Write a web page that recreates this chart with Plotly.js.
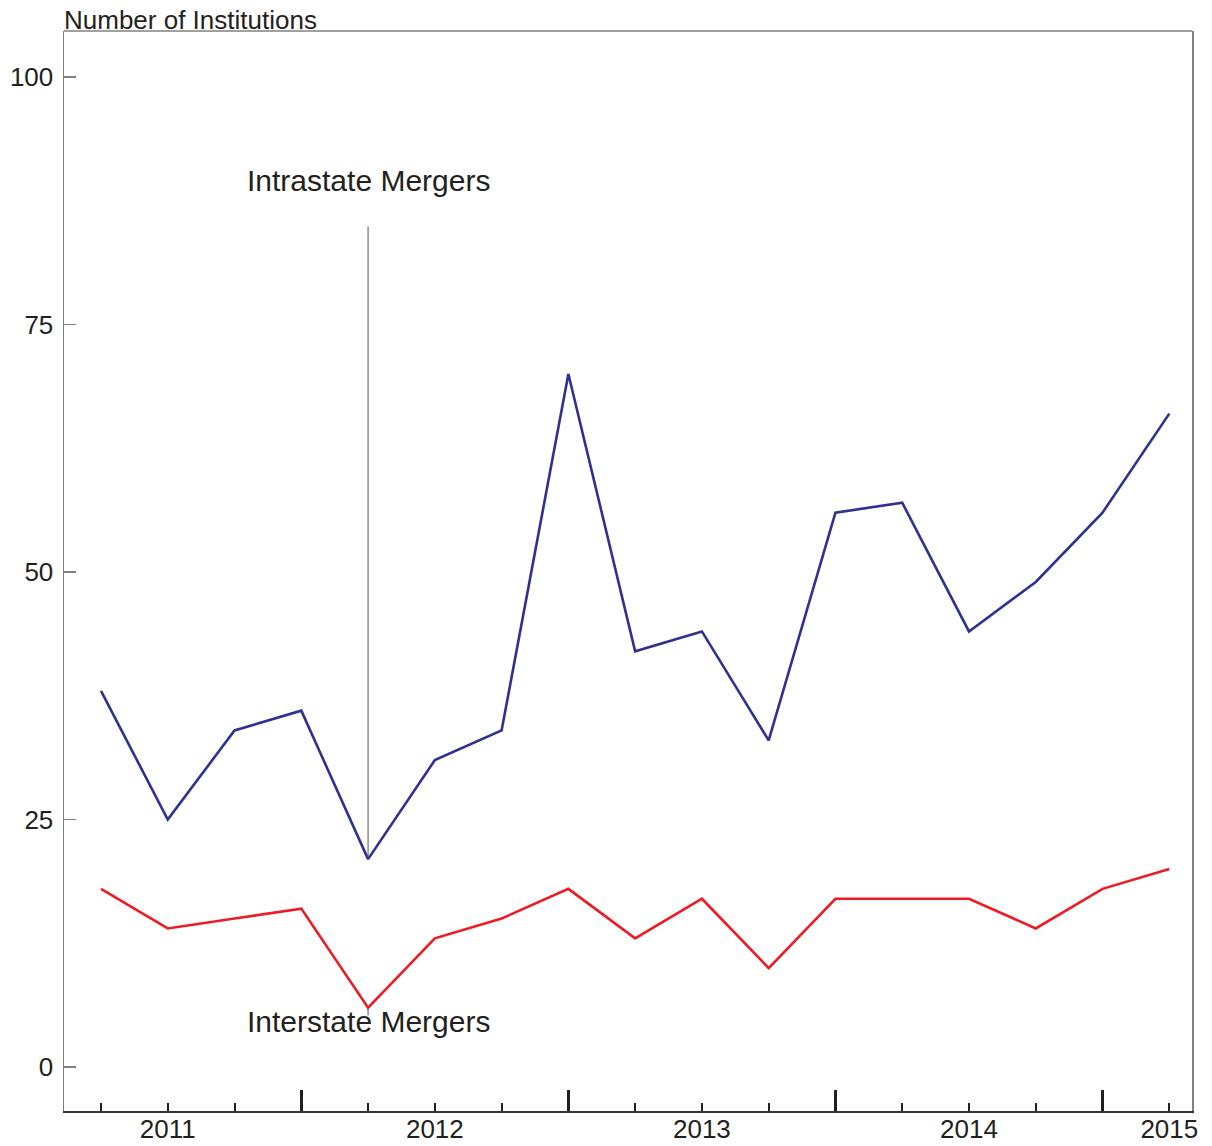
<!DOCTYPE html>
<html>
<head>
<meta charset="utf-8">
<script src="https://cdn.plot.ly/plotly-3.0.1.min.js"></script>
<style>
  html, body { margin: 0; padding: 0; background: white; }
  #chart { width: 1212px; height: 1146px; }
</style>
</head>
<body>
<div id="chart"></div>
<script>
// ===== Data (quarterly, 2010 Q4 .. 2014 Q4) =====
const quarters = [0, 1, 2, 3, 4, 5, 6, 7, 8, 9, 10, 11, 12, 13, 14, 15, 16];
const intrastate = [38, 25, 34, 36, 21, 31, 34, 70, 42, 44, 33, 56, 57, 44, 49, 56, 66];
const interstate = [18, 14, 15, 16, 6, 13, 15, 18, 13, 17, 10, 17, 17, 17, 14, 18, 20];
const yearTicks = [1, 5, 9, 13, 16];
const yearLabels = ['2011', '2012', '2013', '2014', '2015'];
const longTicks = [3, 7, 11, 15];

const FONT = '"Liberation Sans", Arial, sans-serif';

function drawChart() {
    const traces = [
        {
            x: quarters, y: intrastate, type: 'scatter', mode: 'lines',
            line: { color: '#2e3192', width: 2.6 },
            hoverinfo: 'skip'
        },
        {
            x: quarters, y: interstate, type: 'scatter', mode: 'lines',
            line: { color: '#ed1c24', width: 2.6 },
            hoverinfo: 'skip'
        },
        // empty traces that carry the extra x axes (labels, long ticks)
        { x: yearTicks, y: yearTicks.map(() => null), xaxis: 'x2', type: 'scatter', mode: 'lines', hoverinfo: 'skip' },
        { x: longTicks, y: longTicks.map(() => null), xaxis: 'x3', type: 'scatter', mode: 'lines', hoverinfo: 'skip' }
    ];

    const xRange = [-0.554, 16.34];

    const layout = {
        width: 1212,
        height: 1146,
        margin: { l: 64, r: 20, t: 31, b: 35 },
        paper_bgcolor: 'white',
        plot_bgcolor: 'white',
        showlegend: false,
        font: { family: FONT, color: '#231f20', size: 24 },
        // quarter ticks (short)
        xaxis: {
            range: xRange,
            showgrid: false,
            zeroline: false,
            showline: true,
            linecolor: '#333333',
            linewidth: 2,
            ticks: 'inside',
            tickvals: quarters,
            ticktext: quarters.map(() => ''),
            ticklen: 8,
            tickwidth: 2,
            tickcolor: '#231f20'
        },
        // year labels
        xaxis2: {
            overlaying: 'x',
            side: 'bottom',
            range: xRange,
            showgrid: false,
            zeroline: false,
            showline: false,
            ticks: '',
            tickvals: yearTicks,
            ticktext: yearLabels,
            ticklabelstandoff: 0,
            tickfont: { size: 26, family: FONT, color: '#231f20' }
        },
        // long ticks at year-end quarters
        xaxis3: {
            overlaying: 'x',
            side: 'bottom',
            range: xRange,
            showgrid: false,
            zeroline: false,
            showline: false,
            showticklabels: false,
            ticks: 'inside',
            tickvals: longTicks,
            ticklen: 21,
            tickwidth: 2.5,
            tickcolor: '#231f20'
        },
        yaxis: {
            range: [-4.44, 104.65],
            showgrid: false,
            zeroline: false,
            showline: true,
            mirror: true,
            linecolor: '#808080',
            linewidth: 1.5,
            ticks: 'inside',
            ticklen: 12,
            tickwidth: 1.5,
            tickcolor: '#808080',
            tickvals: [0, 25, 50, 75, 100],
            ticklabelstandoff: 4,
            tickfont: { size: 26, family: FONT, color: '#231f20' }
        },
        shapes: [
            {
                type: 'line', xref: 'paper', yref: 'paper',
                x0: 0, x1: 1, y0: 1, y1: 1,
                line: { color: '#808080', width: 1.5 }
            },
            {
                type: 'line', xref: 'x', yref: 'y',
                x0: 4, x1: 4, y0: intrastate[4], y1: 84.9,
                line: { color: '#555555', width: 1 }
            },
            {
                type: 'line', xref: 'x', yref: 'y',
                x0: 4, x1: 4, y0: interstate[4], y1: 5.2,
                line: { color: '#555555', width: 1 }
            }
        ],
        annotations: [
            {
                text: 'Number of Institutions',
                xref: 'paper', yref: 'paper', x: 0, y: 1,
                xanchor: 'left', yanchor: 'bottom', yshift: -6, xshift: -2,
                showarrow: false,
                font: { size: 26, family: FONT, color: '#231f20' }
            },
            {
                text: 'Intrastate Mergers',
                xref: 'x', yref: 'y', x: 4, y: 89.5,
                showarrow: false,
                font: { size: 30, family: FONT, color: '#231f20' }
            },
            {
                text: 'Interstate Mergers',
                xref: 'x', yref: 'y', x: 4, y: 4.6,
                showarrow: false,
                font: { size: 30, family: FONT, color: '#231f20' }
            }
        ]
    };

    Plotly.newPlot('chart', traces, layout, { displayModeBar: false, staticPlot: true });
}

document.addEventListener('DOMContentLoaded', drawChart);
</script>
</body>
</html>
